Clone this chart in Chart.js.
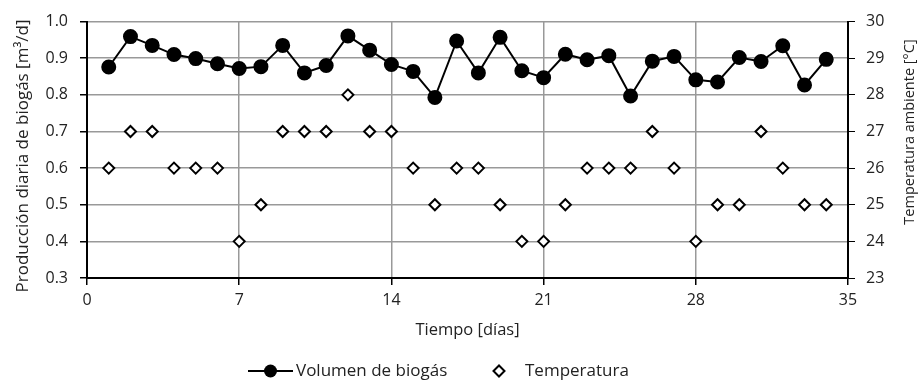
<!DOCTYPE html>
<html>
<head>
<meta charset="utf-8">
<title>Volumen de biogás y temperatura</title>
<script src="https://cdn.jsdelivr.net/npm/chart.js@4"></script>
<style>
  html, body { margin: 0; padding: 0; background: #fff; }
  #wrap { width: 919px; height: 381px; position: relative; }
</style>
</head>
<body>
<div id="wrap"><canvas id="biogasChart"></canvas></div>
<script>
// Días de medición
const dias = [1, 2, 3, 4, 5, 6, 7, 8, 9, 10, 11, 12, 13, 14, 15, 16, 17,
              18, 19, 20, 21, 22, 23, 24, 25, 26, 27, 28, 29, 30, 31, 32, 33, 34];

// Producción diaria de biogás [m3/d]
const volumenBiogas = [0.876, 0.959, 0.935, 0.910, 0.899, 0.885, 0.872, 0.877, 0.935, 0.860,
                       0.880, 0.961, 0.922, 0.883, 0.864, 0.793, 0.947, 0.860, 0.957, 0.866,
                       0.847, 0.911, 0.896, 0.907, 0.797, 0.892, 0.905, 0.841, 0.835, 0.902,
                       0.891, 0.934, 0.827, 0.897];

// Temperatura ambiente [°C]
const temperatura = [26, 27, 27, 26, 26, 26, 24, 25, 27, 27, 27, 28, 27, 27, 26, 25, 26,
                     26, 25, 24, 24, 25, 26, 26, 26, 27, 26, 24, 25, 25, 27, 26, 25, 25];

const ticksX = [0, 7, 14, 21, 28, 35];
const nombresSeries = ['Volumen de biogás', 'Temperatura'];
const tituloX = 'Tiempo [días]';
const tituloY = 'Producción diaria de biogás [m³/d]';
const tituloY1 = 'Temperatura ambiente [°C]';

const FONT = '"Open Sans", sans-serif';
const TEXT = '#222';
const GRID = '#999';

// Legend symbol: line with filled circle
function symbolCircle() {
  const c = document.createElement('canvas');
  c.width = 45; c.height = 16;
  const g = c.getContext('2d');
  g.strokeStyle = '#000'; g.lineWidth = 2;
  g.beginPath(); g.moveTo(0, 8); g.lineTo(45, 8); g.stroke();
  g.fillStyle = '#000';
  g.beginPath(); g.arc(22.5, 8, 6.5, 0, Math.PI * 2); g.fill();
  return c;
}
function drawDiamond(g, x, y, r) {
  g.beginPath();
  g.moveTo(x - r, y); g.lineTo(x, y - r); g.lineTo(x + r, y); g.lineTo(x, y + r);
  g.closePath();
  g.fillStyle = '#fff'; g.fill();
  g.strokeStyle = '#000'; g.lineWidth = 2; g.stroke();
}
function verticalText(g, text, x, y, size) {
  g.save();
  g.translate(x, y);
  g.rotate(-Math.PI / 2);
  g.font = size + 'px ' + FONT;
  g.fillStyle = TEXT;
  g.textAlign = 'center';
  g.textBaseline = 'middle';
  g.fillText(text, 0, 0);
  g.restore();
}

// Both y titles read bottom-to-top, plus the legend under the x title
const extras = {
  id: 'extras',
  afterDraw(chart) {
    const g = chart.ctx;
    verticalText(g, tituloY, 23, 156, 17);
    verticalText(g, tituloY1, 910, 132, 14.5);

    const y = 371;
    g.save();
    g.font = '17px ' + FONT;
    g.textBaseline = 'middle';
    g.drawImage(symbolCircle(), 248, y - 8);
    g.fillStyle = TEXT;
    g.fillText(nombresSeries[0], 296, y);
    drawDiamond(g, 499, y, 5.5);
    g.fillStyle = TEXT;
    g.fillText(nombresSeries[1], 525, y);
    g.restore();
  }
};

new Chart(document.getElementById('biogasChart'), {
  type: 'line',
  data: {
    datasets: [{
      label: nombresSeries[0],
      data: dias.map((d, i) => ({ x: d, y: volumenBiogas[i] })),
      yAxisID: 'y',
      borderColor: '#000',
      backgroundColor: '#000',
      borderWidth: 2,
      pointRadius: 6.5,
      pointHoverRadius: 6.5,
      tension: 0
    }, {
      label: nombresSeries[1],
      data: dias.map((d, i) => ({ x: d, y: temperatura[i] })),
      yAxisID: 'y1',
      showLine: false,
      pointStyle: 'rectRot',
      pointRadius: 5.5,
      pointHoverRadius: 5.5,
      pointBorderWidth: 2,
      borderColor: '#000',
      backgroundColor: '#fff'
    }]
  },
  options: {
    responsive: true,
    maintainAspectRatio: false,
    animation: false,
    layout: { padding: { top: 14, left: 0, right: 0, bottom: 0 } },
    plugins: {
      legend: { display: false },
      tooltip: { enabled: false }
    },
    scales: {
      x: {
        type: 'linear',
        min: 0,
        max: 35,
        afterBuildTicks: axis => { axis.ticks = ticksX.map(v => ({ value: v })); },
        afterFit: axis => { axis.height = 103; },
        grid: { color: GRID, lineWidth: 1.5, tickColor: '#000', tickLength: 7 },
        border: { color: '#000', width: 2 },
        ticks: { color: TEXT, font: { family: FONT, size: 16 }, padding: 6, maxRotation: 0 },
        title: { display: true, text: tituloX, color: TEXT, font: { family: FONT, size: 16.5 }, padding: { top: 4, bottom: 41 } }
      },
      y: {
        position: 'left',
        min: 0.3,
        max: 1.0,
        afterFit: axis => { axis.width = 87; },
        ticks: { stepSize: 0.1, color: TEXT, font: { family: FONT, size: 16 }, padding: 12,
                 callback: v => v.toFixed(1) },
        grid: { color: GRID, lineWidth: 1.5, tickColor: '#000', tickLength: 7 },
        border: { color: '#000', width: 2 }
      },
      y1: {
        position: 'right',
        min: 23,
        max: 30,
        afterFit: axis => { axis.width = 71; },
        ticks: { stepSize: 1, color: TEXT, font: { family: FONT, size: 16 }, padding: 11 },
        grid: { drawOnChartArea: false, tickColor: '#000', tickLength: 7 },
        border: { color: '#000', width: 2 }
      }
    }
  },
  plugins: [extras]
});
</script>
</body>
</html>
